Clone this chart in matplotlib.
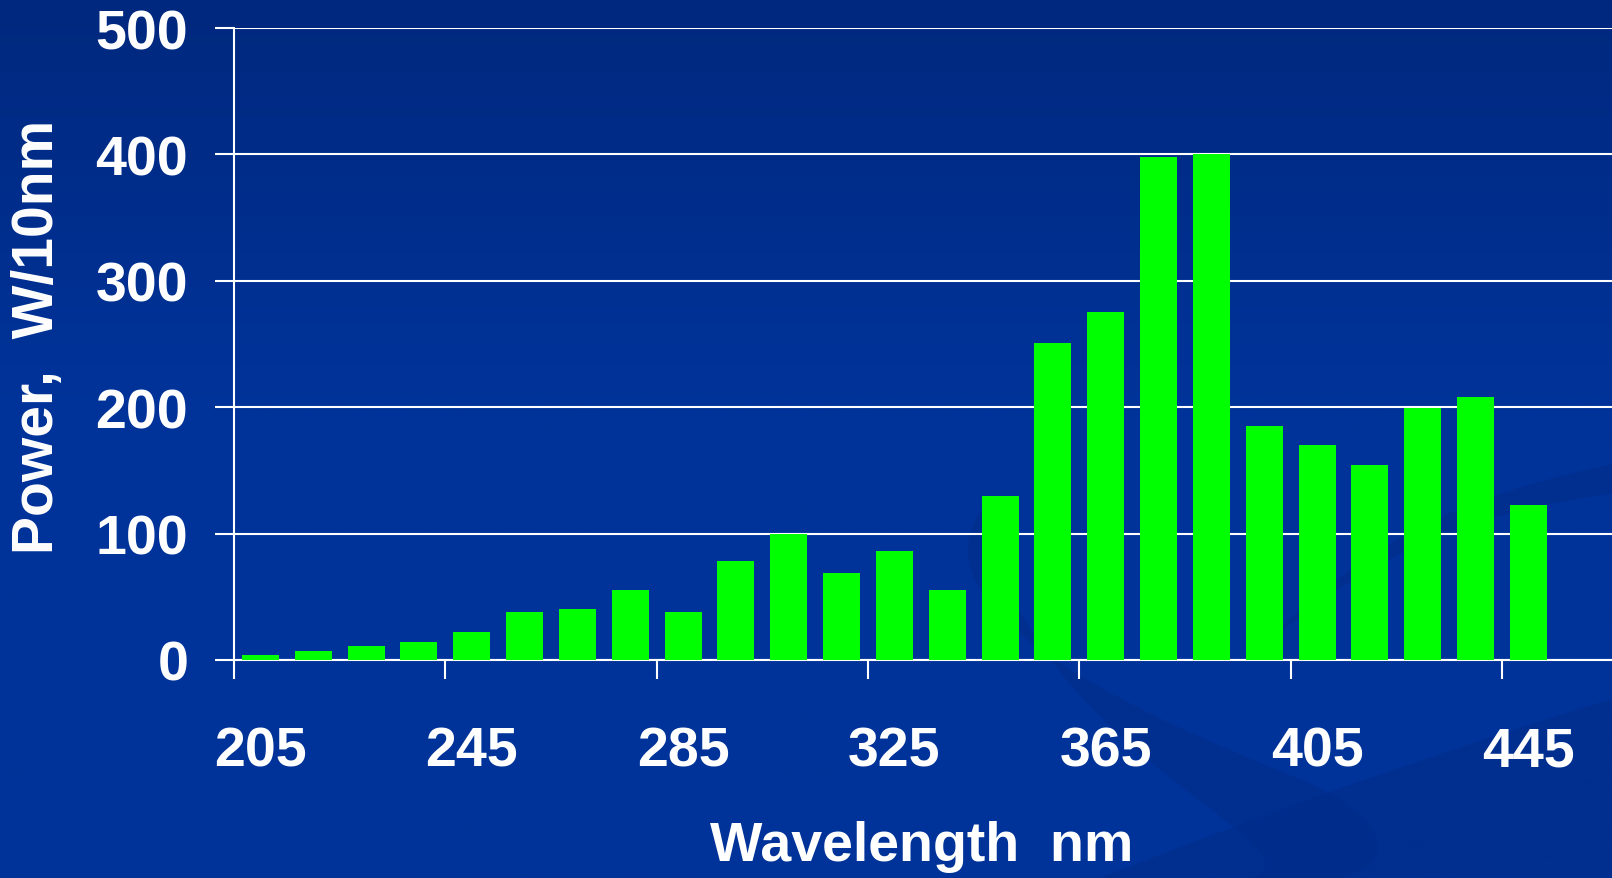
import matplotlib
matplotlib.use("Agg")
import matplotlib.pyplot as plt
import numpy as np
from matplotlib.path import Path
from matplotlib.patches import PathPatch

# spectral power per 10 nm band
wavelengths = [205, 215, 225, 235, 245, 255, 265, 275, 285, 295, 305, 315, 325,
               335, 345, 355, 365, 375, 385, 395, 405, 415, 425, 435, 445]
power = [4, 7, 11, 14, 22, 38, 40, 55, 38, 78, 100, 69, 86,
         55, 130, 251, 275, 398, 400, 185, 170, 154, 199, 208, 123]
ytick_vals = [0, 100, 200, 300, 400, 500]
xlabel_every = 4

plt.rcParams['font.family'] = ['Liberation Sans', 'DejaVu Sans']
plt.rcParams['font.weight'] = 'bold'

W, H = 1612, 879
fig = plt.figure(figsize=(W / 100, H / 100), dpi=100)

# slide-style background: navy gradient with faint swooshes (pixel coords, y down)
bg = fig.add_axes([0, 0, 1, 1], zorder=-10)
bg.axis('off')
t = np.linspace(0, 1, 400)[:, None]
top = np.array([0, 40, 126]) / 255
mid = np.array([0, 51, 153]) / 255
k = np.clip(t / 0.45, 0, 1)
grad = (1 - k)[..., None] * top + k[..., None] * mid
grad = np.repeat(grad, 2, axis=1)
bg.imshow(grad, extent=[0, W, H, 0], aspect='auto')
bg.set_xlim(0, W)
bg.set_ylim(H, 0)

swoosh = (0, 44 / 255, 138 / 255)


def band(pts, alpha):
    codes = [Path.MOVETO] + [Path.CURVE4] * (len(pts) - 1)
    bg.add_patch(PathPatch(Path(pts, codes), facecolor=swoosh, edgecolor='none', alpha=alpha))


# crescent sweeping down behind the bars
band([(990, 500), (900, 600), (1100, 700), (1300, 780),
      (1420, 830), (1400, 900), (1250, 879),
      (1340, 850), (1000, 740), (990, 500)], 0.55)
# thin streak toward the right edge
band([(1250, 660), (1380, 520), (1500, 490), (1612, 465),
      (1612, 480), (1612, 495), (1612, 495),
      (1500, 510), (1380, 540), (1250, 660)], 0.55)
# lower right sweep
band([(1100, 879), (1300, 800), (1480, 740), (1612, 700),
      (1612, 790), (1612, 879), (1612, 879),
      (1400, 879), (1250, 879), (1100, 879)], 0.55)

ax = fig.add_axes([234 / W, 218 / H, 1378 / W, 632 / H])
ax.set_facecolor('none')

n = len(wavelengths)
x = np.arange(n) + 0.5
ax.bar(x, power, width=0.7, color='#00ff00', zorder=3)

ax.set_xlim(0, 1378 / 52.83)
ax.set_ylim(0, 500)

# y axis: gridlines continue out past the spine as tick marks
ax.set_yticks(ytick_vals)
ax.yaxis.grid(True, color='white', linewidth=1.5, zorder=1)
ax.set_axisbelow(True)
ax.tick_params(axis='y', direction='out', length=14, width=1.5, color='white',
               labelcolor='white', labelsize=40, pad=19)

# x axis: marks on group boundaries, labels centred on the band
ax.set_xticks(np.arange(0, n, xlabel_every))
ax.set_xticklabels([])
ax.set_xticks(x[::xlabel_every], minor=True)
ax.set_xticklabels([str(w) for w in wavelengths[::xlabel_every]], minor=True)
ax.tick_params(axis='x', which='major', direction='out', length=14, width=1.5, color='white')
ax.tick_params(axis='x', which='minor', length=0, labelcolor='white', labelsize=40, pad=47)

for side in ['top', 'right']:
    ax.spines[side].set_visible(False)
for side in ['left', 'bottom']:
    ax.spines[side].set_color('white')
    ax.spines[side].set_linewidth(1.5)

ax.set_xlabel('Wavelength  nm', color='white', fontsize=40, fontweight='bold')
ax.set_ylabel('Power,  W/10nm', color='white', fontsize=41, fontweight='bold')
ax.xaxis.set_label_coords((922 - 234) / 1378, -(847 - 661) / 632)
ax.yaxis.set_label_coords(-(234 - 38) / 1378, (661 - 337) / 632)
ax.xaxis.label.set_va('center')
ax.yaxis.label.set_va('center')

fig.savefig('out.png', dpi=100)
